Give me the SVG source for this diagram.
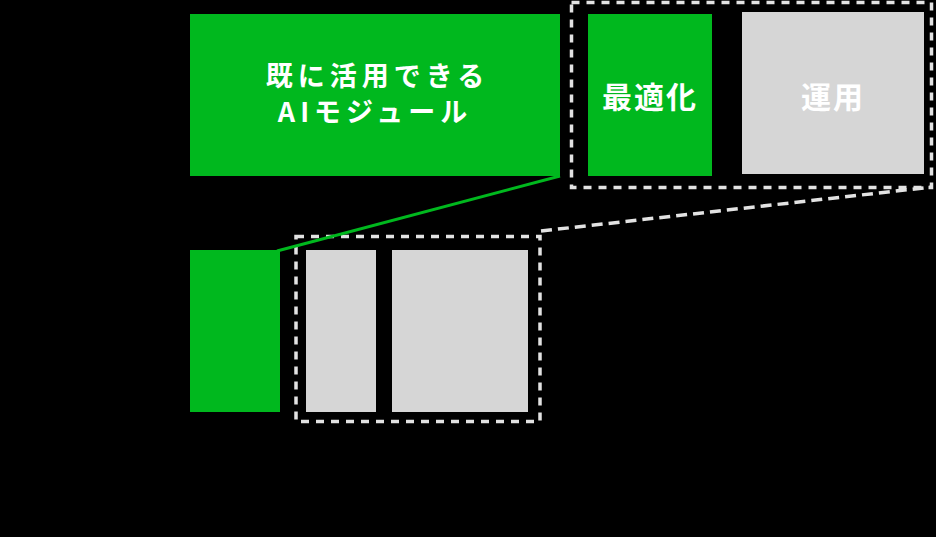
<svg xmlns="http://www.w3.org/2000/svg" width="936" height="537" viewBox="0 0 936 537">
<style>
.bg{fill:#000}
.green{fill:#00B81E}
.gray{fill:#D6D6D6}
.frame{fill:none;stroke:#E2E2E2;stroke-width:3.5;stroke-dasharray:8 7}
.lbl{font-family:"Noto Sans CJK JP","Noto Sans",sans-serif;font-weight:700;fill:#FFFFFF;text-anchor:middle;dominant-baseline:central}
</style>
<rect class="bg" x="0" y="0" width="936" height="537"/>
<g id="frame-top"><rect class="frame" x="571.5" y="2.5" width="360" height="185"/></g>
<g id="frame-bottom"><rect class="frame" x="296" y="236.5" width="244" height="185"/></g>
<g id="ai-module">
<rect class="green" x="190" y="14" width="370" height="162"/>
<text class="lbl" x="377.5" y="74" font-size="27" letter-spacing="5">既に活用できる</text>
<text class="lbl" x="375" y="110" font-size="27" letter-spacing="5">AIモジュール</text>
</g>
<g id="optimize">
<rect class="green" x="588" y="14" width="124" height="162"/>
<text class="lbl" x="650" y="95" font-size="30" letter-spacing="2">最適化</text>
</g>
<g id="operation">
<rect class="gray" x="742" y="12" width="182" height="162"/>
<text class="lbl" x="833" y="95" font-size="30" letter-spacing="2">運用</text>
</g>
<g id="small-green"><rect class="green" x="190" y="250" width="90" height="162"/></g>
<g id="small-gray-1"><rect class="gray" x="306" y="250" width="70" height="162"/></g>
<g id="small-gray-2"><rect class="gray" x="392" y="250" width="136" height="162"/></g>
<g id="connectors">
<line x1="541" y1="231" x2="932" y2="187" stroke="#E2E2E2" stroke-width="3.5" stroke-dasharray="11 6"/>
<line x1="277" y1="251" x2="560" y2="176" stroke="#00B81E" stroke-width="3"/>
</g>
</svg>
